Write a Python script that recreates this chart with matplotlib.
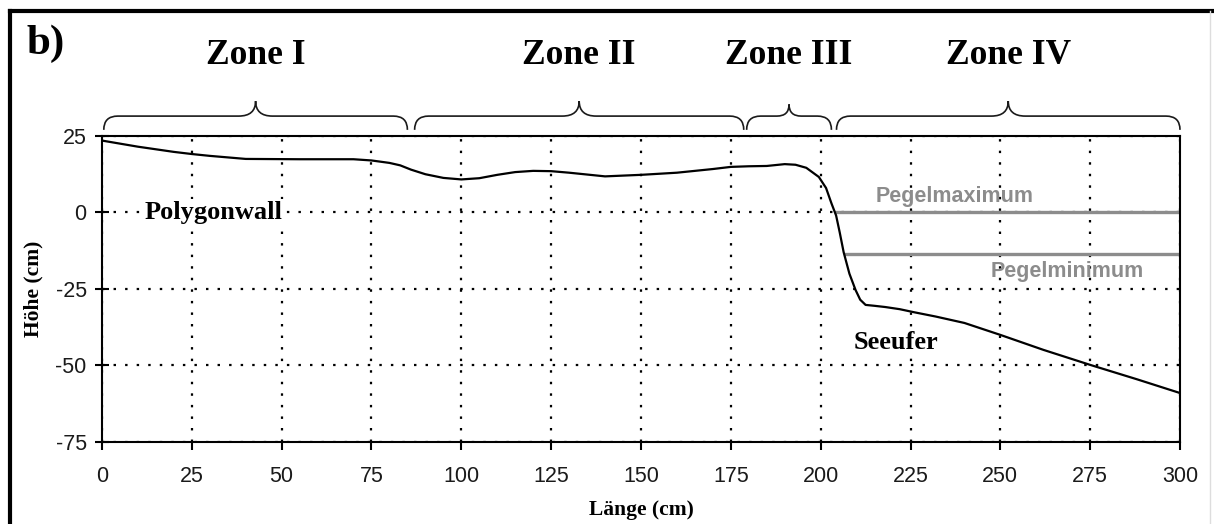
import numpy as np
import matplotlib.pyplot as plt
from matplotlib.path import Path
from matplotlib.patches import PathPatch
from matplotlib.lines import Line2D

plt.rcParams['axes.unicode_minus'] = False

# Profil: Länge (cm) gegen Höhe (cm)
laenge = [0, 10, 20, 25, 30, 40, 55, 70, 75, 80, 83, 86, 90, 95, 100, 105,
          110, 115, 120, 125, 130, 140, 150, 160, 170, 175, 180, 185, 190,
          193, 196, 199.5, 201.5, 203, 204.3, 205.3, 206.4, 208, 209.7, 211,
          212.5, 215, 218, 222, 226, 232, 240, 250, 262, 275, 288, 300]
hoehe = [23.5, 21.5, 19.8, 19.1, 18.5, 17.5, 17.4, 17.4, 17.0, 16.2, 15.4,
         14.0, 12.5, 11.3, 10.8, 11.2, 12.3, 13.2, 13.6, 13.5, 13.0, 11.8,
         12.3, 13.0, 14.2, 14.9, 15.1, 15.2, 15.8, 15.6, 14.6, 11.6, 8.0,
         3.0, -1.0, -6.5, -13.0, -20.0, -25.3, -28.5, -30.2, -30.5, -30.9,
         -31.6, -32.6, -34.0, -36.1, -40.0, -44.9, -49.8, -54.5, -59.0]

# Wasserstände
pegel_max = 0
pegel_max_start = 204.2
pegel_min = -13.5
pegel_min_start = 207

# Zonen (von, bis) in cm
zonen = ['Zone I', 'Zone II', 'Zone III', 'Zone IV']
zonen_von = [0.5, 87, 179.4, 204.4]
zonen_bis = [85, 178.6, 203, 300]

x_ticks = [0, 25, 50, 75, 100, 125, 150, 175, 200, 225, 250, 275, 300]
y_ticks = [25, 0, -25, -50, -75]

serif = 'Liberation Serif'
sans = 'Liberation Sans'


def klammer(ax, x0, x1, yb, yf, yt, r_end, r_tip, **kw):
    # geschweifte Klammer über einem Bereich
    xm = (x0 + x1) / 2
    verts = [(x0, yb), (x0, yf), (x0 + r_end, yf), (xm - r_tip, yf),
             (xm, yf), (xm, yt), (xm, yf), (xm + r_tip, yf),
             (x1 - r_end, yf), (x1, yf), (x1, yb)]
    codes = [Path.MOVETO, Path.CURVE3, Path.CURVE3, Path.LINETO,
             Path.CURVE3, Path.CURVE3, Path.CURVE3, Path.CURVE3,
             Path.LINETO, Path.CURVE3, Path.CURVE3]
    patch = PathPatch(Path(verts, codes), fill=False, clip_on=False, **kw)
    ax.add_patch(patch)


fig = plt.figure(figsize=(12.14, 5.24), dpi=100)
ax = fig.add_axes([0.084, 0.1565, 0.888, 0.584])

ax.plot(laenge, hoehe, color='black', lw=1.6, zorder=3)
ax.plot([pegel_max_start, 300], [pegel_max, pegel_max], color='#8c8c8c', lw=2.4, zorder=2.5)
ax.plot([pegel_min_start, 300], [pegel_min, pegel_min], color='#8c8c8c', lw=2.4, zorder=2.5)

ax.set_xlim(0, 300)
ax.set_ylim(-75, 25)
ax.set_xticks(x_ticks)
ax.set_yticks(y_ticks)
ax.set_axisbelow(True)
ax.grid(True, color='black', lw=1.6, linestyle=(0, (1.1, 4.1)))

for s in ax.spines.values():
    s.set_linewidth(1.5)
    s.set_color('black')

ax.tick_params(axis='x', direction='out', length=6, width=1.5, pad=11,
               labelsize=15.5, labelcolor='#1a1a1a')
ax.tick_params(axis='y', direction='inout', length=10, width=1.5, pad=6,
               labelsize=15.5, labelcolor='#1a1a1a')
for lab in ax.get_xticklabels() + ax.get_yticklabels():
    lab.set_fontfamily(sans)

ax.set_xlabel('Länge (cm)', fontfamily=serif, fontweight='bold', fontsize=15.5)
ax.xaxis.set_label_coords(0.5, -0.19)
ax.set_ylabel('Höhe (cm)', fontfamily=serif, fontweight='bold', fontsize=15.5)
ax.yaxis.set_label_coords(-0.0545, 0.5)

# Beschriftungen im Profil
ax.text(11.9, 0, 'Polygonwall', fontfamily=serif, fontweight='bold', fontsize=19,
        ha='left', va='center', zorder=4,
        bbox=dict(facecolor='white', edgecolor='none', pad=1.5))
ax.text(221, -42.6, 'Seeufer', fontfamily=serif, fontweight='bold', fontsize=19,
        ha='center', va='center', zorder=4,
        bbox=dict(facecolor='white', edgecolor='none', pad=1.5))
ax.text(215.3, 5.1, 'Pegelmaximum', fontfamily=sans, fontweight='bold', fontsize=15.5,
        color='#8c8c8c', ha='left', va='center', zorder=4)
ax.text(247.2, -19.4, 'Pegelminimum', fontfamily=sans, fontweight='bold', fontsize=15.5,
        color='#8c8c8c', ha='left', va='center', zorder=4)

# Zonen mit Klammern
for name, x0, x1 in zip(zonen, zonen_von, zonen_bis):
    breite = x1 - x0
    r_end = min(3.9, breite / 6)
    r_tip = min(4.7, breite / 7)
    yt = 36.4 if breite > 40 else 35.3
    klammer(ax, x0, x1, 27.0, 31.5, yt, r_end, r_tip, color='#1a1a1a', lw=1.2)
    ax.text((x0 + x1) / 2, 51.2, name, fontfamily=serif, fontweight='bold',
            fontsize=25.5, ha='center', va='center')

fig.text(0.022, 0.917, 'b)', fontfamily=serif, fontweight='bold', fontsize=31,
         ha='left', va='center')

# Rahmen
fig.add_artist(Line2D([0.0082, 1.0], [0.979, 0.979], color='black', lw=3))
fig.add_artist(Line2D([0.0082, 0.0082], [0.0, 0.979], color='black', lw=3))
fig.add_artist(Line2D([0.9967, 0.9967], [0.0, 0.979], color='#dddddd', lw=1))

fig.savefig('out.png', dpi=100)
